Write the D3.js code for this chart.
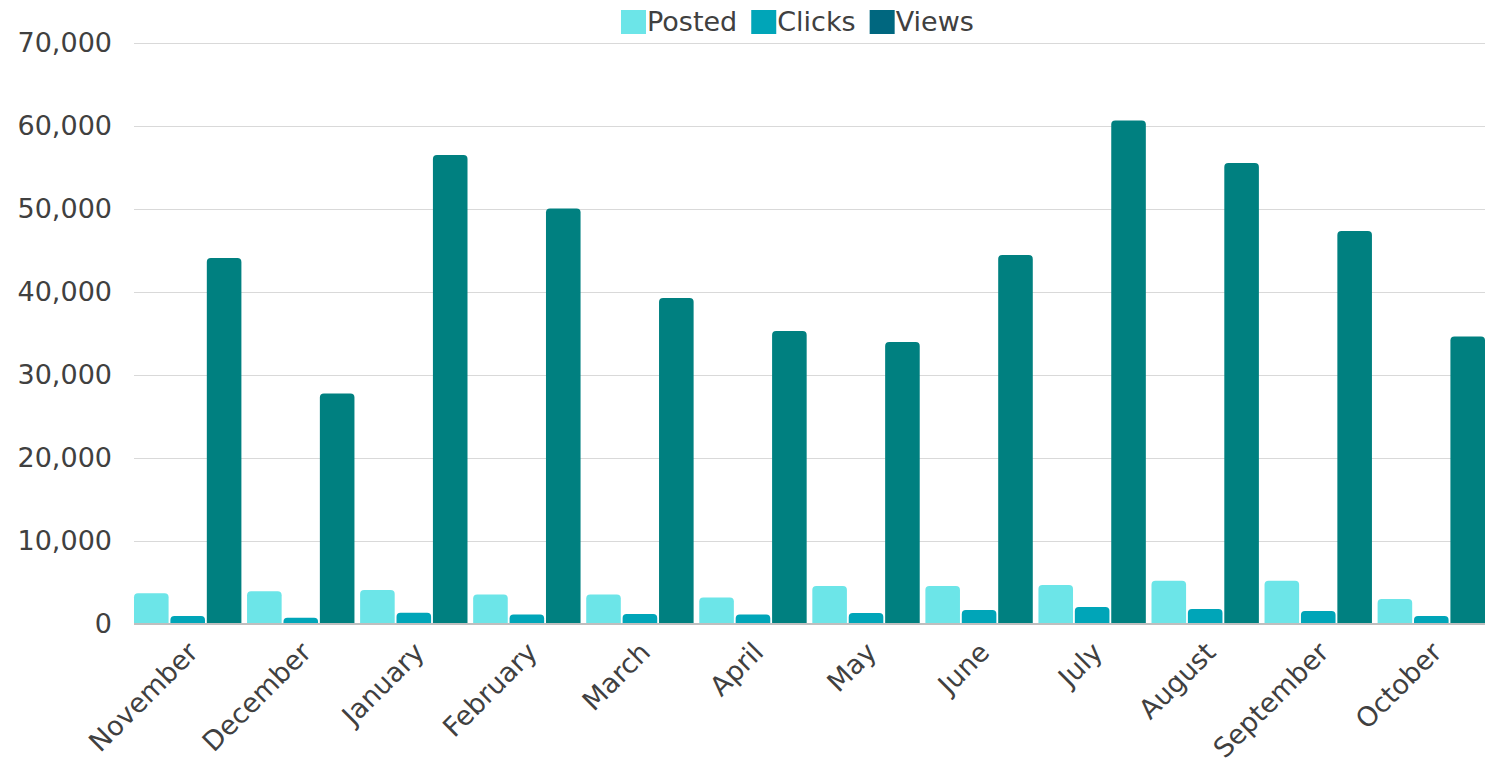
<!DOCTYPE html>
<html>
<head>
<meta charset="utf-8">
<script src="https://cdn.jsdelivr.net/npm/d3@7"></script>
<style>
  body { margin: 0; background: #fff; }
  text { font-family: "DejaVu Sans", sans-serif; fill: #404040; }
</style>
</head>
<body>
<div id="wrapper"></div>
<script>
// data
const months = ["November", "December", "January", "February", "March", "April",
  "May", "June", "July", "August", "September", "October"]
const seriesNames = ["Posted", "Clicks", "Views"]
const posted = [3700, 3940, 4100, 3550, 3550, 3190, 4580, 4580, 4700, 5220, 5220, 3010]
const clicks = [960, 760, 1360, 1150, 1200, 1150, 1330, 1690, 2050, 1800, 1570, 960]
const views = [44100, 27770, 56500, 50060, 39280, 35300, 33980, 44460, 60660, 55540, 47350, 34640]
const yTicks = [0, 10000, 20000, 30000, 40000, 50000, 60000, 70000]

const barColors = ["#6ce5e8", "#00a5b8", "#008080"]
const legendColors = ["#6ce5e8", "#00a5b8", "#00677f"]

const table = months.map((m, i) => ({month: m, values: [posted[i], clicks[i], views[i]]}))

const dimensions = {
  width: 1493,
  height: 764,
  margin: {top: 43, right: 8, bottom: 140, left: 134}
}
dimensions.boundedWidth = dimensions.width - dimensions.margin.left - dimensions.margin.right
dimensions.boundedHeight = 624 - dimensions.margin.top

const svg = d3.select("#wrapper")
  .append("svg")
  .attr("width", dimensions.width)
  .attr("height", dimensions.height)

const bounds = svg.append("g")
  .attr("transform", `translate(${dimensions.margin.left},${dimensions.margin.top})`)

// scales
const xScale = d3.scaleBand()
  .domain(months)
  .range([0, dimensions.boundedWidth])
  .paddingInner(0.05)
  .paddingOuter(0)

const subScale = d3.scaleBand()
  .domain(seriesNames)
  .range([0, xScale.bandwidth()])
  .paddingInner(0.05)

const yScale = d3.scaleLinear()
  .domain([0, 70000])
  .range([dimensions.boundedHeight, 0])

// grid + y labels
const yAxis = bounds.append("g")
  .call(d3.axisLeft(yScale)
    .tickValues(yTicks)
    .tickSize(-dimensions.boundedWidth)
    .tickPadding(22)
    .tickFormat(d3.format(",")))
yAxis.select(".domain").remove()
yAxis.selectAll(".tick line")
  .attr("stroke", "#d9d9d9")
  .attr("stroke-width", 1)
yAxis.selectAll(".tick text")
  .attr("font-size", 27)
  .attr("fill", "#404040")
  .style("font-family", "DejaVu Sans")

// bars, top corners rounded
const topRounded = (x, y, w, h, r) => {
  r = Math.min(r, h, w / 2)
  return `M${x},${y + h}V${y + r}Q${x},${y} ${x + r},${y}H${x + w - r}Q${x + w},${y} ${x + w},${y + r}V${y + h}Z`
}

const groups = bounds.selectAll(".group")
  .data(table)
  .join("g")
  .attr("class", "group")
  .attr("transform", d => `translate(${xScale(d.month)},0)`)

groups.selectAll("path")
  .data(d => d.values.map((v, i) => ({name: seriesNames[i], value: v, i})))
  .join("path")
  .attr("fill", d => barColors[d.i])
  .attr("d", d => topRounded(
    subScale(d.name), yScale(d.value),
    subScale.bandwidth(), yScale(0) - yScale(d.value), 4))

// zero line
bounds.append("line")
  .attr("x1", 0)
  .attr("x2", dimensions.boundedWidth)
  .attr("y1", yScale(0))
  .attr("y2", yScale(0))
  .attr("stroke", "#bfbfbf")
  .attr("stroke-width", 2)

// x labels
const xAxis = bounds.append("g")
  .attr("transform", `translate(0,${dimensions.boundedHeight})`)
  .call(d3.axisBottom(xScale).tickSize(0).tickPadding(0))
xAxis.select(".domain").remove()
xAxis.selectAll(".tick text")
  .attr("font-size", 27)
  .attr("fill", "#404040")
  .style("font-family", "DejaVu Sans")
  .attr("text-anchor", "end")
  .attr("dy", null)
  .attr("transform", "translate(12,30) rotate(-45)")

// legend
const legend = svg.append("g")
  .attr("transform", "translate(621,10)")
let lx = 0
seriesNames.forEach((name, i) => {
  const item = legend.append("g").attr("transform", `translate(${lx},0)`)
  item.append("rect")
    .attr("width", 25)
    .attr("height", 24)
    .attr("fill", legendColors[i])
  const t = item.append("text")
    .attr("x", 26)
    .attr("y", 21)
    .attr("font-size", 27)
    .text(name)
  lx += 26 + t.node().getComputedTextLength() + 14
})
</script>
</body>
</html>
